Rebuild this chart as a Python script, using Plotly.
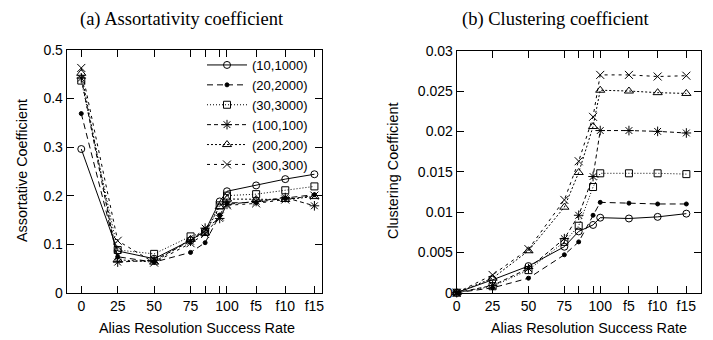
import plotly.graph_objects as go

# ---------------- data ----------------
x_labels = ["0", "25", "50", "75", "", "", "100", "f5", "f10", "f15"]
x_pos = [0, 25, 50, 75, 85, 95, 100, 120, 140, 160]

series_names = ["(10,1000)", "(20,2000)", "(30,3000)", "(100,100)", "(200,200)", "(300,300)"]

assort_10_1000 = [0.296, 0.086, 0.070, 0.108, 0.127, 0.188, 0.209, 0.221, 0.234, 0.244]
assort_20_2000 = [0.369, 0.074, 0.063, 0.083, 0.103, 0.160, 0.185, 0.186, 0.195, 0.202]
assort_30_3000 = [0.437, 0.088, 0.080, 0.116, 0.125, 0.180, 0.200, 0.203, 0.211, 0.219]
assort_100_100 = [0.442, 0.063, 0.067, 0.106, 0.133, 0.153, 0.182, 0.188, 0.196, 0.179]
assort_200_200 = [0.452, 0.068, 0.063, 0.110, 0.123, 0.177, 0.193, 0.192, 0.192, 0.198]
assort_300_300 = [0.463, 0.107, 0.062, 0.102, 0.121, 0.157, 0.180, 0.184, 0.192, 0.200]

clust_10_1000 = [0, 0.0016, 0.0033, 0.0057, 0.0076, 0.0084, 0.0093, 0.0092, 0.0094, 0.0098]
clust_20_2000 = [0, 0.0006, 0.0018, 0.0047, 0.0063, 0.0096, 0.0112, 0.0111, 0.0110, 0.0110]
clust_30_3000 = [0, 0.0008, 0.0028, 0.0063, 0.0083, 0.0131, 0.0148, 0.0148, 0.0148, 0.0147]
clust_100_100 = [0, 0.0009, 0.0030, 0.0067, 0.0096, 0.0144, 0.0201, 0.0201, 0.0200, 0.0198]
clust_200_200 = [0, 0.0018, 0.0052, 0.0106, 0.0149, 0.0206, 0.0251, 0.0250, 0.0248, 0.0247]
clust_300_300 = [0, 0.0022, 0.0054, 0.0115, 0.0163, 0.0218, 0.0270, 0.0270, 0.0268, 0.0269]

y1_ticks = [0, 0.1, 0.2, 0.3, 0.4, 0.5]
y1_ticklabels = ["0", "0.1", "0.2", "0.3", "0.4", "0.5"]
y2_ticks = [0, 0.005, 0.01, 0.015, 0.02, 0.025, 0.03]
y2_ticklabels = ["0", "0.005", "0.01", "0.015", "0.02", "0.025", "0.03"]

# ---------------- styles ----------------
symbols = ["circle-open", "circle", "square-open", "asterisk-open", "triangle-up-open", "x-thin-open"]
sizes = [7, 4, 7, 8, 8, 8]
dashes = ["solid", "6px,4px", "1px,2px", "4px,3px", "2px,2px", "3px,4px"]

assort = [assort_10_1000, assort_20_2000, assort_30_3000, assort_100_100, assort_200_200, assort_300_300]
clust = [clust_10_1000, clust_20_2000, clust_30_3000, clust_100_100, clust_200_200, clust_300_300]

W, H = 713, 340
fig = go.Figure()

for i, name in enumerate(series_names):
    mk = dict(symbol=symbols[i], size=sizes[i], color="black",
              line=dict(color="black", width=1))
    fig.add_trace(go.Scatter(x=x_pos, y=assort[i], name=name, mode="lines+markers",
                             line=dict(color="black", width=1, dash=dashes[i]),
                             marker=mk, xaxis="x", yaxis="y", cliponaxis=False))
    fig.add_trace(go.Scatter(x=x_pos, y=clust[i], name=name, mode="lines+markers",
                             line=dict(color="black", width=1, dash=dashes[i]),
                             marker=mk, xaxis="x2", yaxis="y2", showlegend=False,
                             cliponaxis=False))

sans = "Liberation Sans, Arial, sans-serif"
serif = "Liberation Serif, Times New Roman, serif"

def px_x(v):
    return v / W

def px_y(v):
    return 1 - v / H

axis_common = dict(showline=True, linecolor="black", linewidth=1, mirror="allticks",
                   ticks="inside", ticklen=7, tickcolor="black", tickwidth=1,
                   showgrid=False, zeroline=False, automargin=False,
                   tickfont=dict(family=sans, size=14, color="black"))

fig.update_layout(
    width=W, height=H,
    margin=dict(l=0, r=0, t=0, b=0, pad=0, autoexpand=False),
    paper_bgcolor="white", plot_bgcolor="white",
    xaxis=dict(domain=[px_x(66.7), px_x(321.7)], range=[-10, 165], anchor="y",
               tickvals=x_pos, ticktext=x_labels, **axis_common),
    yaxis=dict(domain=[px_y(292.7), px_y(50)], range=[0, 0.5], anchor="x",
               tickvals=y1_ticks, ticktext=y1_ticklabels, **axis_common),
    xaxis2=dict(domain=[px_x(456.7), px_x(700.7)], range=[0, 170], anchor="y2",
                tickvals=x_pos, ticktext=x_labels, **axis_common),
    yaxis2=dict(domain=[px_y(292.7), px_y(50.7)], range=[0, 0.03], anchor="x2",
                tickvals=y2_ticks, ticktext=y2_ticklabels, **axis_common),
    legend=dict(x=px_x(313), xanchor="right", y=px_y(50), yanchor="top",
                bgcolor="rgba(0,0,0,0)", font=dict(family=sans, size=13, color="black"),
                itemwidth=40, tracegroupgap=0),
    showlegend=True,
)

annots = [
    dict(text="(a) Assortativity coefficient", x=px_x(182), y=px_y(19),
         font=dict(family=serif, size=18.5, color="black")),
    dict(text="(b) Clustering coefficient", x=px_x(556), y=px_y(19),
         font=dict(family=serif, size=18.5, color="black")),
    dict(text="Alias Resolution Success Rate", x=px_x(197), y=px_y(328),
         font=dict(family=sans, size=14.4, color="black")),
    dict(text="Alias Resolution Success Rate", x=px_x(589), y=px_y(328),
         font=dict(family=sans, size=14.4, color="black")),
    dict(text="Assortative Coefficient", x=px_x(22), y=px_y(171), textangle=-90,
         font=dict(family=sans, size=14.4, color="black")),
    dict(text="Clustering Coefficient", x=px_x(393), y=px_y(171), textangle=-90,
         font=dict(family=sans, size=14.4, color="black")),
]
for a in annots:
    fig.add_annotation(xref="paper", yref="paper", showarrow=False,
                       xanchor="center", yanchor="middle", **a)

fig.write_html("out.html", config={"displayModeBar": False},
               post_script="document.body.style.margin='0';document.body.style.overflow='hidden';")
